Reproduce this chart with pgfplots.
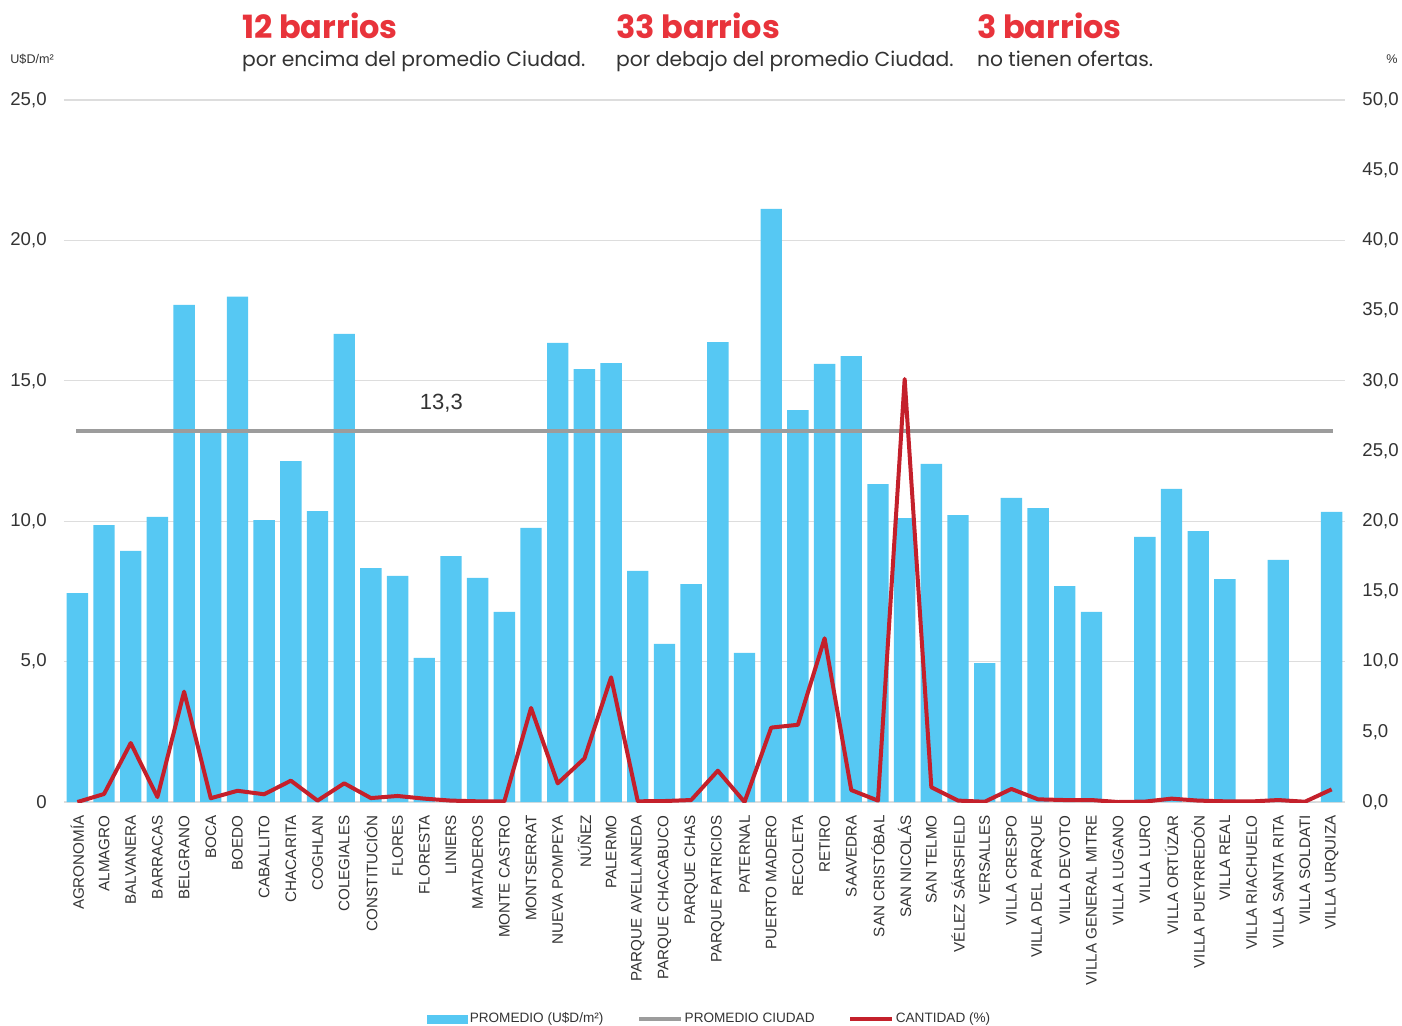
\documentclass[border=0pt]{standalone}
\usepackage{pgfplots}
\pgfplotsset{compat=1.18}
\usepackage{pgfplotstable}
\usepackage{fontspec}
\setmainfont{Liberation Sans}
\newfontfamily\poppins{Poppins}
\newfontfamily\poppinsbold{Poppins Bold}

\definecolor{barblue}{HTML}{56C8F3}
\definecolor{linered}{HTML}{C4202B}
\definecolor{avggray}{HTML}{9C9C9C}
\definecolor{titlered}{HTML}{E8333B}
\definecolor{gridgray}{HTML}{DDDDDD}
\definecolor{txt}{HTML}{333333}

% precio en U$D/m2 (eje izq.), cantidad en % (eje der.)
\pgfplotstableread{
x precio cantidad
0  7.44  0.00
1  9.86  0.57
2  8.94  4.20
3  10.15 0.35
4  17.70 7.86
5  13.20 0.27
6  18.00 0.80
7  10.04 0.55
8  12.14 1.52
9  10.36 0.10
10 16.67 1.33
11 8.33  0.28
12 8.05  0.43
13 5.13  0.24
14 8.76  0.10
15 7.98  0.05
16 6.77  0.05
17 9.76  6.70
18 16.35 1.33
19 15.42 3.10
20 15.63 8.88
21 8.23  0.05
22 5.63  0.07
23 7.76  0.14
24 16.38 2.23
25 5.31  0.00
26 21.12 5.30
27 13.96 5.50
28 15.60 11.66
29 15.88 0.85
30 11.32 0.10
31 10.11 30.13
32 12.04 1.05
33 10.22 0.10
34 4.95  0.02
35 10.83 0.93
36 10.47 0.19
37 7.69  0.14
38 6.77  0.14
39 0     0.00
40 9.44  0.03
41 11.15 0.24
42 9.65  0.10
43 7.94  0.05
44 0     0.04
45 8.62  0.14
46 0     0.02
47 10.33 0.90
}\datos

\begin{document}
\begin{tikzpicture}
\path[use as bounding box] (-32pt,-111.5pt) rectangle (669pt,401pt);

\begin{axis}[
  at={(0,0)}, anchor=south west,
  scale only axis, width=640.5pt, height=351pt,
  xmin=-0.5, xmax=47.5, ymin=0, ymax=25,
  axis line style={draw=none},
  tick style={draw=none},
  ymajorgrids, grid style={gridgray, line width=0.6pt},
  ytick={0,5,10,15,20,25},
  yticklabels={0,{5,0},{10,0},{15,0},{20,0},{25,0}},
  yticklabel style={font=\fontsize{9.3}{10}\selectfont, text=txt, inner sep=0pt},
  yticklabel shift=8.5pt,
  xtick={0,...,47},
  xticklabels={AGRONOMÍA, ALMAGRO, BALVANERA, BARRACAS, BELGRANO, BOCA, BOEDO, CABALLITO, CHACARITA, COGHLAN, COLEGIALES, CONSTITUCIÓN, FLORES, FLORESTA, LINIERS, MATADEROS, MONTE CASTRO, MONTSERRAT, NUEVA POMPEYA, NÚÑEZ, PALERMO, PARQUE AVELLANEDA, PARQUE CHACABUCO, PARQUE CHAS, PARQUE PATRICIOS, PATERNAL, PUERTO MADERO, RECOLETA, RETIRO, SAAVEDRA, SAN CRISTÓBAL, SAN NICOLÁS, SAN TELMO, VÉLEZ SÁRSFIELD, VERSALLES, VILLA CRESPO, VILLA DEL PARQUE, VILLA DEVOTO, VILLA GENERAL MITRE, VILLA LUGANO, VILLA LURO, VILLA ORTÚZAR, VILLA PUEYRREDÓN, VILLA REAL, VILLA RIACHUELO, VILLA SANTA RITA, VILLA SOLDATI, VILLA URQUIZA},
  xticklabel style={rotate=90, anchor=east, font=\fontsize{7.6}{8}\selectfont, text=txt, inner sep=0pt},
  xticklabel shift=6.5pt,
]
\addplot[ybar, bar width=0.8, fill=barblue, draw=none] table[x=x, y=precio] {\datos};
\addplot[avggray, line width=2pt] coordinates {(-0.05,13.22) (47.05,13.22)};
\node[font=\fontsize{11}{12}\selectfont, text=txt] at (axis cs:13.64,14.2) {13,3};
\end{axis}

\begin{axis}[
  at={(0,0)}, anchor=south west,
  scale only axis, width=640.5pt, height=351pt,
  xmin=-0.5, xmax=47.5, ymin=0, ymax=50,
  axis x line=none, axis y line*=right,
  axis line style={draw=none},
  tick style={draw=none},
  ytick={0,5,...,50},
  yticklabels={{0,0},{5,0},{10,0},{15,0},{20,0},{25,0},{30,0},{35,0},{40,0},{45,0},{50,0}},
  yticklabel style={font=\fontsize{9.3}{10}\selectfont, text=txt, inner sep=0pt},
  yticklabel shift=8.5pt,
  legend columns=3,
  legend cell align=left,
  legend style={at={(rel axis cs:0.504,0)}, anchor=center, yshift=-108.5pt, draw=none,
    fill=none, font=\fontsize{6.8}{7}\selectfont, text=txt,
    nodes={inner sep=0.8pt},
    /tikz/every even column/.append style={column sep=16pt},
    /tikz/every odd column/.append style={column sep=0pt}},
]
\addlegendimage{legend image code/.code={\fill[barblue] (0pt,-2pt) rectangle (20pt,2pt);}}
\addlegendentry{PROMEDIO (U\$D/m²)}
\addlegendimage{legend image code/.code={\draw[avggray, line width=2pt] (0pt,0pt) -- (21pt,0pt);}}
\addlegendentry{PROMEDIO CIUDAD}
\addplot[linered, line width=2pt, line join=round,
  legend image code/.code={\draw[linered, line width=2pt] (0pt,0pt) -- (21pt,0pt);}]
  table[x=x, y=cantidad] {\datos};
\addlegendentry{CANTIDAD (\%)}
\end{axis}

% encabezado
\node[anchor=base west, font=\poppinsbold\fontsize{16}{18}\selectfont, text=titlered] at (85.5pt,382pt) {12 barrios};
\node[anchor=base west, font=\poppins\fontsize{10.15}{12}\selectfont, text=txt] at (85.5pt,368pt) {por encima del promedio Ciudad.};
\node[anchor=base west, font=\poppinsbold\fontsize{16}{18}\selectfont, text=titlered] at (272.5pt,382pt) {33 barrios};
\node[anchor=base west, font=\poppins\fontsize{10.15}{12}\selectfont, text=txt] at (272.5pt,368pt) {por debajo del promedio Ciudad.};
\node[anchor=base west, font=\poppinsbold\fontsize{16}{18}\selectfont, text=titlered] at (453pt,382pt) {3 barrios};
\node[anchor=base west, font=\poppins\fontsize{10.15}{12}\selectfont, text=txt] at (453pt,368pt) {no tienen ofertas.};
\node[anchor=base west, font=\fontsize{6.3}{7}\selectfont, text=txt, inner sep=0pt] at (-27pt,369.5pt) {U\$D/m²};
\node[anchor=base east, font=\fontsize{6.3}{7}\selectfont, text=txt, inner sep=0pt] at (667pt,369.5pt) {\%};
\end{tikzpicture}
\end{document}
